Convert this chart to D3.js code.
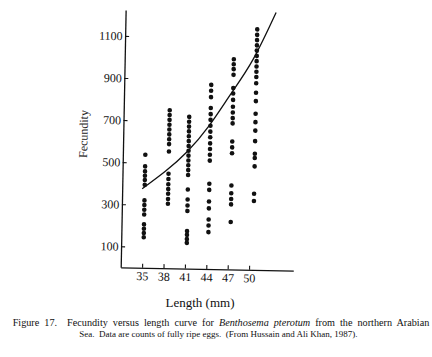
<!DOCTYPE html>
<html>
<head>
<meta charset="utf-8">
<script src="https://cdn.jsdelivr.net/npm/d3@7"></script>
<style>
  html, body { margin: 0; padding: 0; background: #fff; }
  svg { display: block; }
</style>
</head>
<body>
<svg id="chart" width="432" height="357"></svg>
<script>
// ---- data ----
const lengths = [35.15, 38.45, 41.2, 44.2, 47.3, 50.5];
const fec35 = [537, 482, 458, 437, 417, 394, 320, 298, 276, 253, 206, 185, 165, 145];
const fec38 = [751, 728, 705, 682, 659, 636, 613, 590, 555, 449, 424, 399, 376, 354, 329, 306];
const fec41 = [721, 698, 675, 652, 629, 606, 583, 560, 537, 514, 491, 468, 445, 376, 328, 300, 274, 178, 160, 140, 122];
const fec44 = [875, 847, 817, 765, 736, 709, 681, 653, 626, 597, 570, 543, 515, 405, 376, 321, 288, 235, 207, 175];
const fec47 = [999, 975, 952, 925, 862, 836, 806, 773, 746, 719, 694, 608, 580, 552, 399, 362, 335, 309, 225];
const fec50 = [1143, 1117, 1092, 1067, 1042, 1017, 992, 967, 942, 917, 887, 842, 802, 742, 702, 662, 612, 552, 532, 492, 362, 327];
const curveLength = [34.8, 38, 41, 44, 47, 50, 53.1];
const curveFecundity = [375, 460, 555, 680, 835, 1000, 1225];
const xTicks = [35, 38, 41, 44, 47, 50];
const yTicks = [100, 300, 500, 700, 900, 1100];
const xTitle = "Length (mm)";
const yTitle = "Fecundity";
const captionLine1 = ["Figure 17.  Fecundity versus length curve for ", "Benthosema pterotum", " from the northern Arabian"];
const captionLine2 = "Sea.  Data are counts of fully ripe eggs.  (From Hussain and Ali Khan, 1987).";

// ---- build ----
const groups = [fec35, fec38, fec41, fec44, fec47, fec50];
const points = [];
groups.forEach((g, i) => g.forEach(v => points.push({x: lengths[i], y: v})));
const curvePts = curveLength.map((l, i) => ({x: l, y: curveFecundity[i]}));

const svg = d3.select("#chart");
const ox = 120.7, oy = 267.3;
const x = d3.scaleLinear().domain([32, 56.2]).range([ox, 293.3]);
const y = d3.scaleLinear().domain([0, 1223]).range([oy, 10]);

const serif = "'Liberation Serif', 'Times New Roman', serif";

// scanned page is slightly rotated
const g = svg.append("g").attr("transform", `rotate(1.1, ${ox}, ${oy})`);

const xAxis = g.append("g")
  .attr("transform", `translate(0,${oy})`)
  .call(d3.axisBottom(x).tickValues(xTicks).tickFormat(d3.format("d"))
        .tickSizeInner(-4).tickSizeOuter(0).tickPadding(4));
const yAxis = g.append("g")
  .attr("transform", `translate(${ox},0)`)
  .call(d3.axisLeft(y).tickValues(yTicks).tickFormat(d3.format("d"))
        .tickSizeInner(-4).tickSizeOuter(0).tickPadding(2.5));

[xAxis, yAxis].forEach(a => {
  a.select(".domain").attr("stroke", "#111").attr("stroke-width", 1.3);
  a.selectAll(".tick line").attr("stroke", "#111").attr("stroke-width", 1.1);
  a.selectAll(".tick text").attr("fill", "#111")
    .style("font-family", serif).style("font-size", "12px");
});

g.append("text")
  .attr("transform", `translate(85,134.7) rotate(-90)`)
  .attr("text-anchor", "middle")
  .style("font-family", serif)
  .style("font-size", "12px")
  .attr("fill", "#222")
  .text(yTitle);

g.selectAll("circle.dot").data(points).enter().append("circle")
  .attr("class", "dot")
  .attr("cx", d => x(d.x))
  .attr("cy", d => y(d.y))
  .attr("r", 2.3)
  .attr("fill", "#111");

g.append("path")
  .datum(curvePts)
  .attr("d", d3.line().x(d => x(d.x)).y(d => y(d.y)).curve(d3.curveNatural))
  .attr("fill", "none")
  .attr("stroke", "#111")
  .attr("stroke-width", 1.3);

svg.append("text")
  .attr("x", 200).attr("y", 306.5)
  .attr("text-anchor", "middle")
  .style("font-family", serif).style("font-size", "13px")
  .attr("fill", "#111")
  .text(xTitle);

const cap1 = svg.append("text")
  .attr("x", 12.7).attr("y", 326)
  .style("font-family", serif).style("font-size", "10.2px")
  .style("white-space", "pre")
  .attr("fill", "#111");
captionLine1.forEach((t, i) => {
  cap1.append("tspan").text(t).style("font-style", i === 1 ? "italic" : "normal");
});
const natural = cap1.node().getComputedTextLength();
const nSpaces = captionLine1.join("").split(" ").length - 1;
cap1.style("word-spacing", Math.max(0, (416.6 - natural) / nSpaces) + "px");

svg.append("text")
  .attr("x", 218.3).attr("y", 337)
  .attr("text-anchor", "middle")
  .style("font-family", serif).style("font-size", "9px")
  .style("white-space", "pre")
  .attr("fill", "#111")
  .text(captionLine2);
</script>
</body>
</html>
